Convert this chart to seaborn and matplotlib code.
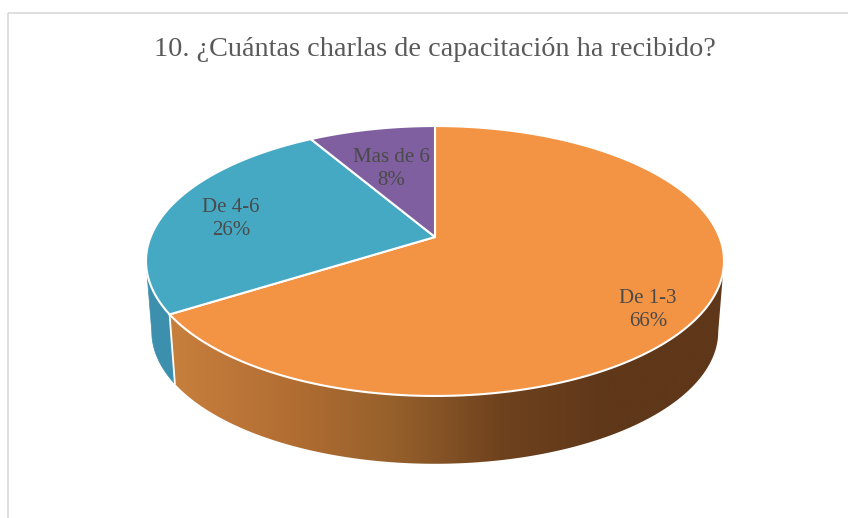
import numpy as np
import matplotlib
matplotlib.use("Agg")
import matplotlib.pyplot as plt
from matplotlib.patches import Polygon, Rectangle
import seaborn as sns

categories = ["De 1-3", "De 4-6", "Mas de 6"]
percents = [66.0, 25.6, 8.4]
top_colors = ["#F39344", "#46A9C4", "#7F5F9F"]
side_stops = ["#C67E3C", "#B36E33", "#96602B", "#6F421E", "#5F3719", "#5F3719"]
side_blue = "#3D90AD"
title = "10. ¿Cuántas charlas de capacitación ha recibido?"

# geometria del disco en pixeles
CX, CY = 435, 237
A, B, K = 284.4, 130.7, -0.1778
DROP, SHRINK = 71, 0.98
LABEL_POS = [(648, 310), (231, 219), (391, 169)]


def top_rim(theta):
    # theta en radianes, horario desde arriba, con perspectiva
    d = 1 - K * np.cos(theta)
    return CX + A * np.sin(theta) / d, CY - B * np.cos(theta) / d


def low_rim(theta):
    x, y = top_rim(theta)
    return CX + SHRINK * (x - CX), CY + DROP + SHRINK * (y - CY)


def side_band(start, stop):
    th = np.linspace(start, stop, 300)
    xt, yt = top_rim(th)
    xl, yl = low_rim(th)
    return np.column_stack([np.r_[xt, xl[::-1]], np.r_[yt, yl[::-1]]])


sns.set_theme(style="white")
plt.rcParams["font.family"] = ["Liberation Serif", "DejaVu Serif"]

fig = plt.figure(figsize=(8.48, 5.18), dpi=100)
ax = fig.add_axes([0, 0, 1, 1])
ax.axis("off")

# marco del grafico
ax.add_patch(Rectangle((8, 13), 900, 600, fill=False, ec="#D9D9D9", lw=1.2))

edges = np.radians(np.cumsum([0] + percents) * 3.6)
# angulos donde el disco es mas ancho (silueta)
widest = np.arccos(K)
left_end = 2 * np.pi - widest
right_end = widest

# lado azul
ax.add_patch(Polygon(side_band(edges[1], left_end), closed=True, fc=side_blue, ec=side_blue, lw=0.5))

# lado naranja con degradado segun x
cmap = sns.blend_palette(side_stops, as_cmap=True)
band = Polygon(side_band(right_end, edges[1]), closed=True, fc="none", ec="none", transform=ax.transData)
ax.add_patch(band)
xs = np.linspace(130, 740, 1024)
grad = np.clip((xs - 178) / (715 - 178), 0, 1).reshape(1, -1)
im = ax.imshow(grad, cmap=cmap, vmin=0, vmax=1, extent=[130, 740, 500, 100], aspect="auto", zorder=1)
im.set_clip_path(band)

ax.set_xlim(0, 848)
ax.set_ylim(518, 0)

# linea blanca entre lado naranja y azul
x0, y0 = top_rim(edges[1])
x1, y1 = low_rim(edges[1])
ax.plot([x0, x1], [y0, y1], color="white", lw=1.3, zorder=2)

# cara superior
for i, col in enumerate(top_colors):
    th = np.linspace(edges[i], edges[i + 1], 200)
    x, y = top_rim(th)
    pts = np.column_stack([np.r_[CX, x], np.r_[CY, y]])
    ax.add_patch(Polygon(pts, closed=True, fc=col, ec="white", lw=1.5, joinstyle="round", zorder=3))

for cat, val, pos in zip(categories, percents, LABEL_POS):
    ax.text(pos[0], pos[1], f"{cat}\n{val:.0f}%", ha="center", va="center", fontsize=15,
            color="#4A4A4A", linespacing=1.25, zorder=4)

ax.text(435, 50, title, ha="center", va="center", fontsize=20.3, color="#595959")

fig.savefig("out.png", dpi=100)
